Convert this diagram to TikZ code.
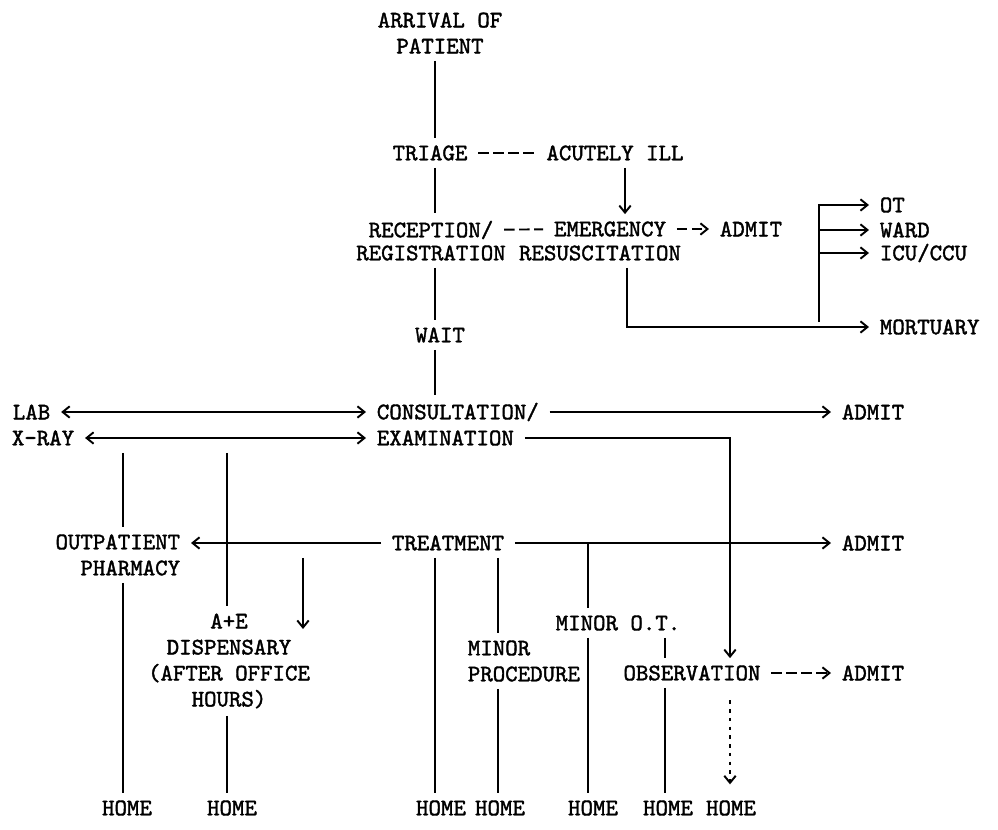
\documentclass[tikz,border=0pt]{standalone}
\usepackage{fontspec}
\newfontfamily\typefont{lmmono10-regular.otf}[FakeBold=1.6]
\usetikzlibrary{arrows.meta,positioning,calc}

\begin{document}
\begin{tikzpicture}[
    x=0.02cm, y=-0.02cm,
    txt/.style={font=\typefont\fontsize{13.5}{14.8}\selectfont, inner xsep=6pt, inner ysep=4pt, align=center},
    ln/.style={line width=1.1pt},
    arr/.style={ln, -{Straight Barb[length=4pt,width=6.5pt]}},
    dbl/.style={ln, {Straight Barb[length=4pt,width=6.5pt]}-{Straight Barb[length=4pt,width=6.5pt]}},
    dsh/.style={ln, dash pattern=on 6pt off 2.5pt},
    dsharr/.style={dsh, -{Straight Barb[length=4pt,width=6.5pt]}},
    dotarr/.style={ln, dash pattern=on 2pt off 3pt, -{Straight Barb[length=4pt,width=6.5pt]}, shorten <=7pt, shorten >=5pt}
]
    \useasboundingbox (0,0) rectangle (998,829);

    % columns of the vertical lines
    \coordinate (colph) at (123,0);
    \coordinate (colae) at (227,0);
    \coordinate (colav) at (303,0);
    \coordinate (colmain) at (435,0);
    \coordinate (colproc) at (498,0);
    \coordinate (colot) at (588,0);
    \coordinate (colacute) at (625,0);
    \coordinate (colres) at (627,0);
    \coordinate (colobs) at (665,0);
    \coordinate (colex) at (730,0);
    \coordinate (forkend) at (819,322);
    \coordinate (aev) at (303,629);

    % top part
    \node [txt] (arrival) at (440,33) {ARRIVAL OF\\PATIENT};
    \node [txt] (triage) at (430,153) {TRIAGE};
    \node [txt] (acute) at (615,153) {ACUTELY ILL};
    \node [txt] (recep1) at (431,230) {RECEPTION/};
    \node [txt] (recep2) at (431,253) {REGISTRATION};
    \node [txt] (emerg1) at (610,229) {EMERGENCY};
    \node [txt] (emerg2) at (600,253) {RESUSCITATION};
    \node [txt] (admitA) at (751,229) {ADMIT};
    \node [txt, anchor=west] (ot) at (869,205) {OT};
    \node [txt, anchor=west] (ward) at (869,230) {WARD};
    \node [txt, anchor=west] (icu) at (869,253) {ICU/CCU};
    \node [txt, anchor=west] (mortuary) at (869,327) {MORTUARY};
    \node [txt] (wait) at (440,335) {WAIT};

    % consultation
    \node [txt, anchor=west] (lab) at (2,412) {LAB};
    \node [txt, anchor=west] (xray) at (1,438) {X-RAY};
    \node [txt, anchor=west] (consult) at (366,412) {CONSULTATION/};
    \node [txt, anchor=west] (exam) at (366,438) {EXAMINATION};
    \node [txt, anchor=west] (admitB) at (831,412) {ADMIT};

    % treatment
    \node [txt, anchor=east, align=right] (outpat) at (191,555) {OUTPATIENT\\PHARMACY};
    \node [txt] (treat) at (448,543) {TREATMENT};
    \node [txt, anchor=west] (admitC) at (831,543) {ADMIT};
    \node [txt] (ae) at (229,661) {A+E\\DISPENSARY\\(AFTER OFFICE\\HOURS)};
    \node [txt, anchor=west, align=left] (minorproc) at (457,661) {MINOR\\PROCEDURE};
    \node [txt] (minorot) at (618,623) {MINOR O.T.};
    \node [txt] (obs) at (692,673) {OBSERVATION};
    \node [txt, anchor=west] (admitD) at (831,673) {ADMIT};
    \foreach \n/\x in {1/127, 2/232, 3/441, 4/500, 5/593, 6/668, 7/731}
        \node [txt] (home\n) at (\x,808) {HOME};

    % top connectors
    \draw [ln] (arrival.south -| colmain) -- (triage.north -| colmain);
    \draw [dsh] (triage) -- (acute);
    \draw [ln] (triage.south -| colmain) -- (recep1.north -| colmain);
    \draw [arr] (acute.south -| colacute) -- (emerg1.north -| colacute);
    \draw [dsh] (recep1) -- (emerg1);
    \draw [dsharr] (emerg1) -- (admitA);
    \draw [arr] (forkend) |- (ot);
    \draw [arr] (ward -| forkend) -- (ward);
    \draw [arr] (icu -| forkend) -- (icu);
    \draw [arr] (emerg2.south -| colres) |- (mortuary);
    \draw [ln] (recep2.south -| colmain) -- (wait.north -| colmain);
    \draw [ln] (wait.south -| colmain) -- (consult.north -| colmain);

    % consultation connectors
    \draw [dbl] (lab) -- (consult);
    \draw [dbl] (xray) -- (exam);
    \draw [arr] (consult) -- (admitB);
    \draw [arr] (exam) -| (obs.north -| colex);
    \draw [ln] (xray.south -| colph) -- (outpat.north -| colph);
    \draw [ln] (xray.south -| colae) -- (ae.north -| colae);

    % treatment connectors
    \draw [arr] (treat) -- (outpat.east |- treat);
    \draw [arr] (treat) -- (admitC);
    \draw [arr] (treat.south -| colav) -- (aev);
    \draw [ln] (treat.east -| colot) -- (minorot.north -| colot);
    \draw [ln] (treat.south -| colmain) -- (home3.north -| colmain);
    \draw [ln] (treat.south -| colproc) -- (minorproc.north -| colproc);
    \draw [ln] (minorproc.south -| colproc) -- (home4.north -| colproc);
    \draw [ln] (minorot.south -| colot) -- (home5.north -| colot);
    \draw [ln] (minorot.south -| colobs) -- (obs.north -| colobs);
    \draw [ln] (obs.south -| colobs) -- (home6.north -| colobs);
    \draw [dsharr] (obs) -- (admitD);
    \draw [dotarr] (obs.south -| colex) -- (home7.north -| colex);
    \draw [ln] (outpat.south -| colph) -- (home1.north -| colph);
    \draw [ln] (ae.south -| colae) -- (home2.north -| colae);
\end{tikzpicture}
\end{document}
